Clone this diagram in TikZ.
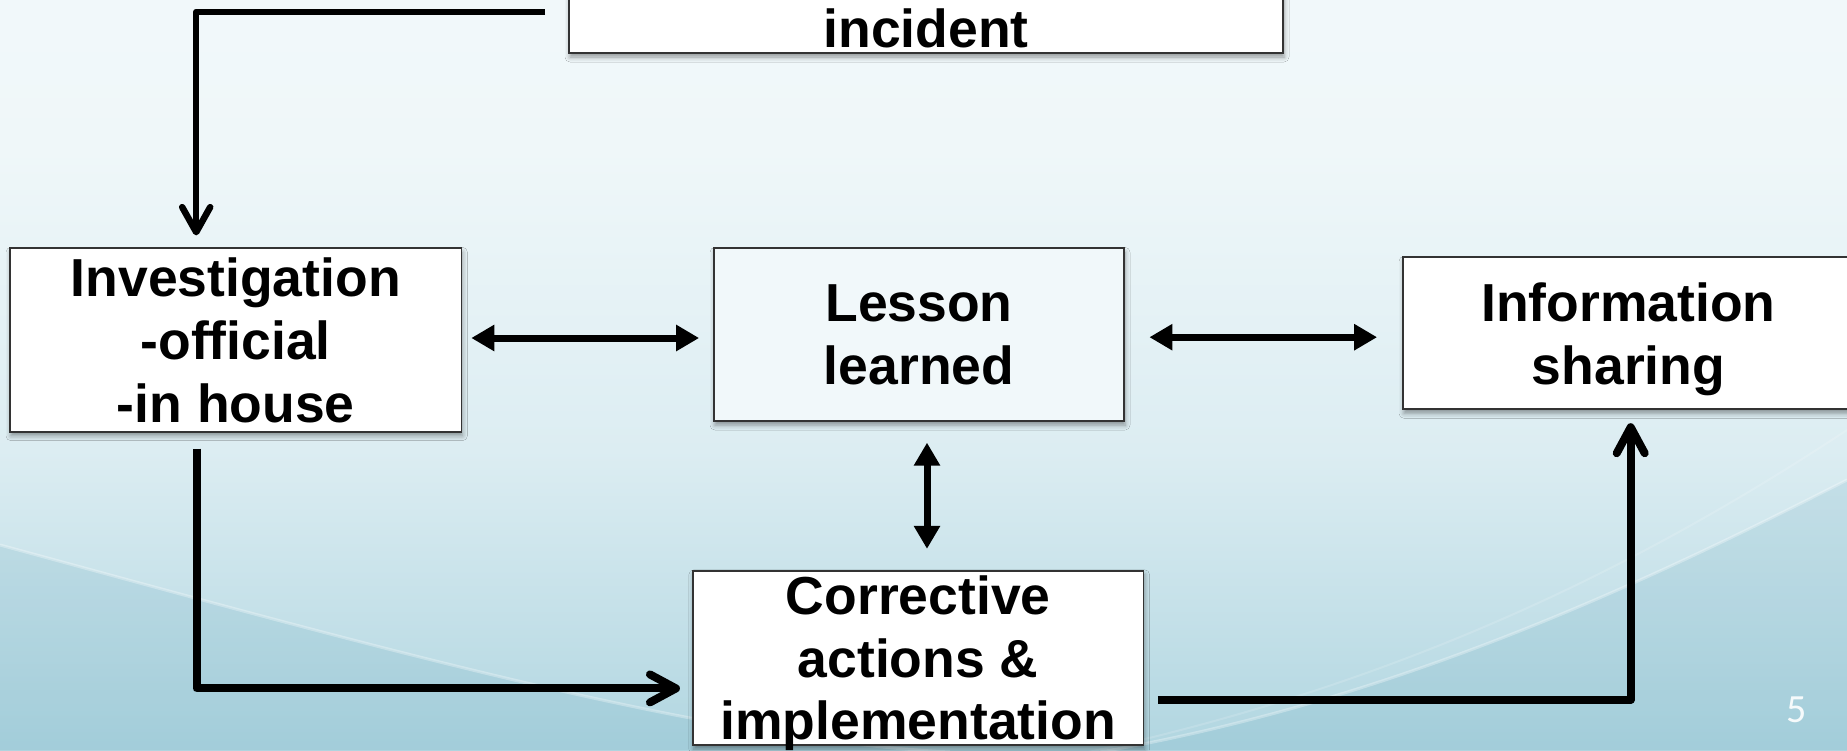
\documentclass[tikz,border=0pt]{standalone}
\usepackage{fontspec}
\setmainfont{Liberation Sans}
\newfontfamily\pgnumfont{Carlito}
\usetikzlibrary{arrows.meta,calc,shadows,shadows.blur}

\definecolor{bgtop}{HTML}{F7FCFD}
\definecolor{bgmA}{HTML}{EFF7F9}
\definecolor{bgmB}{HTML}{DCEDF2}
\definecolor{bgmC}{HTML}{A6D0DC}
\definecolor{bgbot}{HTML}{76B2C5}
\definecolor{bgdark}{HTML}{4E9AB2}
\definecolor{boxline}{HTML}{333333}
\definecolor{lessonfill}{HTML}{F1F8FA}

\pgfdeclareverticalshading{bgshade}{100bp}{color(0bp)=(bgbot); color(20bp)=(bgmC); color(45bp)=(bgmB); color(65bp)=(bgmA); color(100bp)=(bgtop)}

\tikzset{
  boxst/.style={draw=boxline, line width=1.8pt, fill=white, inner sep=0pt,
    align=center, text depth=0pt,
    font=\bfseries\fontsize{53.5pt}{62.7pt}\selectfont,
    blur shadow={shadow xshift=1pt, shadow yshift=-4pt, shadow blur radius=5pt, shadow opacity=40}},
  barbA/.style={line width=6.5pt, line join=round,
    -{Straight Barb[length=25pt,width=28pt,round]}},
  barbB/.style={line width=8pt, line join=round,
    -{Straight Barb[length=26pt,width=28pt,round]}},
  dblarrow/.style={line width=7pt,
    {Triangle[length=23pt,width=25pt]}-{Triangle[length=23pt,width=25pt]}},
}

\begin{document}
\begin{tikzpicture}[x=1pt,y=-1pt]
\clip (0,0) rectangle (1847,750);
% background
\shade[shading=bgshade] (0,0) rectangle (1847,750);
\fill[bgdark, opacity=0.14] (0,545) .. controls (350,640) and (700,740) .. (950,752)
  -- (1100,752) .. controls (1400,700) and (1650,580) .. (1847,480)
  -- (1847,750) -- (0,750) -- cycle;
\draw[white, opacity=0.3, line width=3pt] (0,545) .. controls (350,640) and (700,740) .. (950,752);
\draw[white, opacity=0.3, line width=3pt] (1100,752) .. controls (1400,700) and (1650,580) .. (1847,480);
\draw[white, opacity=0.15, line width=2pt] (1050,760) .. controls (1400,690) and (1650,560) .. (1847,430);

% boxes
\node[boxst, minimum width=714pt, anchor=base, text height=128pt, text depth=5.2pt] (inc) at (926,47.8) {incident};
\node[boxst, minimum width=451.4pt, minimum height=183.4pt] (inv) at (235.7,340) {Investigation\\-official\\-in house};
\node[boxst, fill=lessonfill, minimum width=410pt, minimum height=172.7pt] (les) at (919,334.7) {Lesson\\learned};
\node[boxst, minimum width=451pt, minimum height=152pt] (info) at (1628.5,333.3) {Information\\sharing};
\node[boxst, minimum width=450.7pt, minimum height=174.3pt] (cor) at (918.2,657.9) {Corrective\\actions \&\\implementation};

% connectors
\coordinate (tstart) at (545,12);
\draw[barbA] (tstart) -| ($(inv.north)+(-39.5,-12)$);
\draw[barbB] ($(inv.south)+(-39.2,16)$) |- ($(cor.west)+(-12,30.5)$);
\draw[barbB] ($(cor.east)+(13.5,42)$) -| ($(info.south)+(2.2,13)$);
\draw[dblarrow] ($(inv.east)+(9,-2)$) -- ($(inv.east -| les.west)+(-14,-2)$);
\draw[dblarrow] ($(les.east)+(24.5,2.5)$) -- ($(les.east -| info.west)+(-25,2.5)$);
\draw[dblarrow] ($(les.south)+(8,20.7)$) -- ($(les.south |- cor.north)+(8,-21)$);

% page number
\node[text=white, text opacity=0.9, font=\pgnumfont\fontsize{40pt}{48pt}\selectfont] (pg) at (1797,710) {5};
\end{tikzpicture}
\end{document}
